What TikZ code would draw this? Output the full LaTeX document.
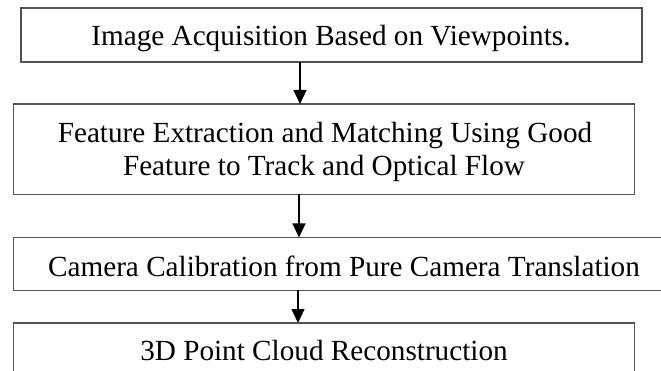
\documentclass[tikz,border=0pt]{standalone}
\usepackage{fontspec}
\setmainfont{Liberation Serif}
\usetikzlibrary{arrows.meta}
\begin{document}
\begin{tikzpicture}[x=1pt,y=-1pt,
  box/.style={draw=black!68, line width=1.3pt, rectangle, inner sep=0pt, outer sep=0pt},
  lbl/.style={anchor=base, inner sep=0pt, font=\fontsize{29.2}{33}\selectfont},
  arr/.style={draw=black, line width=1.2pt, -{Triangle[width=13pt,length=14pt]}}]
\useasboundingbox (0,0) rectangle (661,371);
\node[box, minimum width=621pt, minimum height=54pt] (b1) at (331.5,35) {};
\node[box, minimum width=621.4pt, minimum height=90.5pt] (b2) at (324,149.25) {};
\node[box, minimum width=661pt, minimum height=53pt] (b3) at (344,264) {};
\node[box, minimum width=621pt, minimum height=76pt] (b4) at (324,361) {};
\node[lbl] (t1) at (331,45.7) {Image Acquisition Based on Viewpoints.};
\node[lbl] (t2a) at (325,142.7) {Feature Extraction and Matching Using Good};
\node[lbl] (t2b) at (324,175.7) {Feature to Track and Optical Flow};
\node[lbl] (t3) at (344,276.7) {Camera Calibration from Pure Camera Translation};
\node[lbl] (t4) at (324,360.2) {3D Point Cloud Reconstruction};
\draw[arr] (b1.south -| 300,0) -- (b2.north -| 300,0);
\draw[arr] (b2.south -| 299,0) -- (b3.north -| 299,0);
\draw[arr] (b3.south -| 298,0) -- (b4.north -| 298,0);
\end{tikzpicture}
\end{document}
